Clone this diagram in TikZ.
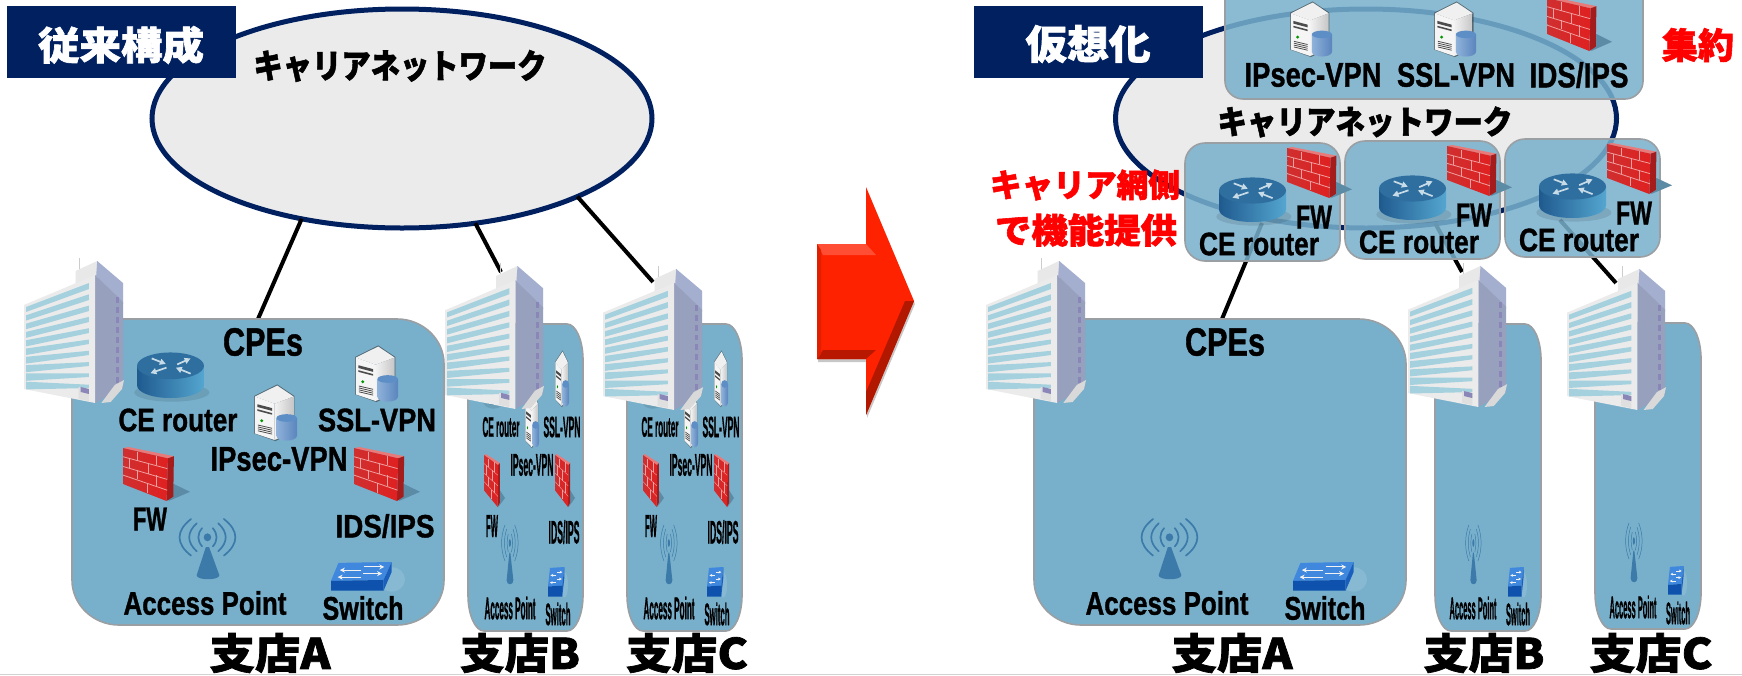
\documentclass[tikz,border=0pt]{standalone}
\usepackage{fontspec}
\usepackage{graphicx}
\setmainfont{Liberation Sans}[BoldFeatures={FakeBold=1.2}]
\newfontfamily\jp{Noto Sans CJK JP}[BoldFeatures={FakeBold=1.6}]
\usetikzlibrary{shapes.geometric,arrows.meta}
\definecolor{navy}{HTML}{002060}
\definecolor{netfill}{HTML}{EBEBEB}
\definecolor{cpe}{HTML}{78B0CC}
\definecolor{cpeedge}{HTML}{9A9FA3}
\definecolor{winblue}{HTML}{A5D0DE}
\definecolor{sideblue}{HTML}{A4AECE}
\definecolor{sidepurple}{HTML}{8A86B8}
\definecolor{iconblue}{HTML}{3C7BA9}
\definecolor{rta}{HTML}{1F5A8E}
\definecolor{rtb}{HTML}{54A6D0}
\definecolor{rtc}{HTML}{2F6F9F}
\definecolor{rtd}{HTML}{C8DCE8}
\definecolor{icb1}{HTML}{8FB2DA}
\definecolor{icb2}{HTML}{5A85BD}
\definecolor{icb3}{HTML}{5D8FC6}
\definecolor{fwshade}{HTML}{5C8BA6}
\definecolor{fwtop}{HTML}{E87A7A}
\definecolor{fwside}{HTML}{A51C1C}
\definecolor{fwa}{HTML}{CF2F30}
\definecolor{fwb}{HTML}{E02020}
\definecolor{fwline}{HTML}{EFA0A0}
\definecolor{swtop}{HTML}{3F88DE}
\definecolor{swfront}{HTML}{0E52AE}
\definecolor{swside}{HTML}{1A5FBB}
\definecolor{arr}{HTML}{FF2200}
\tikzset{
  netcloud/.style={shape=ellipse,draw=navy,fill=netfill,line width=5pt,inner sep=0pt,outer sep=0pt},
  titlebox/.style={fill=navy,inner sep=0pt,outer sep=0pt},
  link/.style={draw=black,line width=4pt},
  cpebox/.style={draw=cpeedge,fill=cpe,line width=1.6pt},
  lbl/.style={inner sep=0pt,outer sep=0pt},
}
\newcount\lc
% text fitted to a box: cx cy W H colour text
\newcommand\tx[6][black]{\global\advance\lc by 1
  \node[lbl,text=#1] (lb\the\lc) at (#2,#3) {\resizebox*{#4pt}{#5pt}{\fontsize{20}{24}\selectfont\bfseries #6}};}
\newcommand\jt[6][black]{\tx[#1]{#2}{#3}{#4}{#5}{\jp #6}}
% rounded box with elliptical corners
\newcommand\ebox[7][cpebox]{%
  \path[#1] ({#2+#6},#3) -- ({#4-#6},#3)
   .. controls ({#4-.45*#6},#3) and (#4,{#3+.45*#7}) .. (#4,{#3+#7})
   -- (#4,{#5-#7})
   .. controls (#4,{#5-.45*#7}) and ({#4-.45*#6},#5) .. ({#4-#6},#5)
   -- ({#2+#6},#5)
   .. controls ({#2+.45*#6},#5) and (#2,{#5-.45*#7}) .. (#2,{#5-#7})
   -- (#2,{#3+#7})
   .. controls (#2,{#3+.45*#7}) and ({#2+.45*#6},#3) .. ({#2+#6},#3) -- cycle;}
% ---------- icons: x1 y1 x2 y2
\newcommand\bldg[4]{%
 \pgfmathsetmacro\icx{((#3)-(#1))/96}\pgfmathsetmacro\icy{((#4)-(#2))/143}
 \begin{scope}[shift={(#1,#2)},x=\icx pt,y=-\icy pt]
  \draw[gray!40,line width=.5pt] (54,-2) -- (54,12);
  \fill[gray!18] (50,11) -- (71,1) -- (71,16) -- (50,24) -- cycle;
  \fill[sideblue] (71,1) -- (96,23) -- (96,44) -- (70,16) -- cycle;
  \fill[sideblue!92!black] (69,15) -- (96,42) -- (96,128) -- (69,143) -- cycle;
  \fill[gray!16] (0,45) -- (69,15) -- (69,143) -- (0,129) -- cycle;
  \foreach \i in {0,...,9}{
    \fill[winblue] (2,{47+8.3*\i}) -- (63,{23+11.3*\i}) -- (63,{29+11*\i}) -- (2,{52+8.6*\i}) -- cycle;}
  \foreach \i in {0,...,8}{
    \fill[sidepurple] (89,{37+10*\i}) rectangle (92,{43+10*\i});}
  \fill[gray!25] (53,127) -- (63,129) -- (63,141) -- (53,139) -- cycle;
  \fill[sidepurple] (55,127) -- (63,129) -- (63,134) -- (55,132) -- cycle;
  \fill[gray!30] (75,143) -- (88,125) -- (97,120) -- (95,129) -- (84,142) -- cycle;
 \end{scope}}
\newcommand\router[4]{%
 \pgfmathsetmacro\icx{((#3)-(#1))/100}\pgfmathsetmacro\icy{((#4)-(#2))/100}
 \pgfmathsetmacro\ick{min(1,((#3)-(#1))/60)}
 \begin{scope}[shift={(#1,#2)},x=\icx pt,y=-\icy pt]
  \fill[black,opacity=.10] (52,88) ellipse [x radius=56,y radius=20];
  \path[left color=rta,right color=rtb] (0,30) -- (0,72) .. controls (0,88) and (22,100) .. (50,100)
     .. controls (78,100) and (100,88) .. (100,72) -- (100,30) -- cycle;
  \fill[rtc] (50,30) ellipse [x radius=50,y radius=29];
  \foreach \ax/\ay/\bx/\by in {22/14/43/26, 60/27/80/14, 44/34/20/46, 80/47/58/34}{
    \draw[rtd,line width=1.7*\ick pt,-{Triangle[length=6pt,width=6pt]}] (\ax,\ay) -- (\bx,\by);}
 \end{scope}}
\newcommand\server[4]{%
 \pgfmathsetmacro\icx{((#3)-(#1))/100}\pgfmathsetmacro\icy{((#4)-(#2))/100}
 \begin{scope}[shift={(#1,#2)},x=\icx pt,y=-\icy pt]
  \fill[gray!45!black,opacity=.6] (0,20) -- (54,-1) -- (94,20) -- (94,84) -- (50,102) -- (0,88) -- cycle;
  \fill[gray!12] (2,21) -- (54,1) -- (92,21) -- (48,34) -- cycle;
  \path[left color=gray!10,right color=gray!45] (48,34) -- (92,21) -- (92,84) -- (48,100) -- cycle;
  \fill[gray!8] (2,21) -- (48,34) -- (48,100) -- (2,88) -- cycle;
  \fill[gray!60!black] (8,35) -- (42,42) -- (42,47) -- (8,40) -- cycle;
  \fill[gray!60!black] (8,44) -- (42,51) -- (42,54) -- (8,47) -- cycle;
  \fill[green!60!black] (18,65) ellipse [x radius=4,y radius=3];
  \foreach \i in {0,...,3}{\fill[gray!60!black] (9,{72+3.5*\i}) -- (42,{78+3.5*\i}) -- (42,{79.5+3.5*\i}) -- (9,{73.5+3.5*\i}) -- cycle;}
  \path[left color=icb1,right color=icb2] (52,60) -- (52,92) .. controls (52,104) and (100,104) .. (100,92) -- (100,60) -- cycle;
  \fill[icb3] (76,60) ellipse [x radius=24,y radius=7];
 \end{scope}}
\newcommand\firewall[4]{%
 \pgfmathsetmacro\icx{((#3)-(#1))/100}\pgfmathsetmacro\icy{((#4)-(#2))/100}
 \pgfmathsetmacro\ick{min(.8,.2+((#3)-(#1))/110)}
 \begin{scope}[shift={(#1,#2)},x=\icx pt,y=-\icy pt]
  \fill[fwshade] (75,68) -- (100,83) -- (68,100) -- cycle;
  \fill[fwtop] (0,2) -- (8,0) -- (76,17) -- (67,21) -- cycle;
  \fill[fwside] (67,21) -- (76,17) -- (75,92) -- (65,100) -- cycle;
  \path[left color=fwa,right color=fwb] (0,2) -- (67,21) -- (65,100) -- (1,69) -- cycle;
  \begin{scope}[draw=fwline,line width=\ick pt]
   \draw (0,18) -- (66,40); \draw (0,36) -- (66,60); \draw (0,52) -- (66,80);
   \draw (22,9) -- (22,25); \draw (50,16) -- (50,34);
   \draw (10,21) -- (10,39); \draw (38,30) -- (38,50);
   \draw (22,43) -- (22,60); \draw (50,52) -- (50,73);
   \draw (36,67) -- (36,85);
  \end{scope}
 \end{scope}}
\newcommand\apicon[4]{%
 \pgfmathsetmacro\icx{((#3)-(#1))/100}\pgfmathsetmacro\icy{((#4)-(#2))/100}
 \pgfmathsetmacro\ick{max(.45,1.7*((#3)-(#1))/54)}
 \begin{scope}[shift={(#1,#2)},x=\icx pt,y=-\icy pt]
  \fill[iconblue] (49,30) ellipse [x radius=7,y radius=6.5];
  \fill[iconblue] (46,46) -- (52,46) -- (71,92) .. controls (72,101) and (28,101) .. (29,92) -- cycle;
  \foreach \rx/\ry in {16/15,32/23,49/30}{
   \draw[iconblue,line width=\ick pt,line cap=round] ({49-.62*\rx},{30-\ry}) .. controls ({49-1.2*\rx},{30-.35*\ry}) and ({49-1.2*\rx},{30+.35*\ry}) .. ({49-.62*\rx},{30+\ry});
   \draw[iconblue,line width=\ick pt,line cap=round] ({49+.62*\rx},{30-\ry}) .. controls ({49+1.2*\rx},{30-.35*\ry}) and ({49+1.2*\rx},{30+.35*\ry}) .. ({49+.62*\rx},{30+\ry});
  }
 \end{scope}}
\newcommand\swicon[4]{%
 \pgfmathsetmacro\icx{((#3)-(#1))/100}\pgfmathsetmacro\icy{((#4)-(#2))/100}
 \pgfmathsetmacro\ick{min(1,.45+((#3)-(#1))/150)}
 \pgfmathsetmacro\ict{min(5,2+((#3)-(#1))/24)}
 \begin{scope}[shift={(#1,#2)},x=\icx pt,y=-\icy pt]
  \fill[white,opacity=.12] (82,60) ellipse [x radius=18,y radius=42];
  \fill[swtop] (10,3) -- (82,0) -- (71,62) -- (0,65) -- cycle;
  \fill[swfront] (0,65) -- (71,62) -- (71,99) -- (0,99) -- cycle;
  \fill[swside] (82,0) -- (82,34) -- (71,99) -- (71,62) -- cycle;
  \foreach \ax/\ay/\bx/\by in {41/28/12/28, 44/17/72/17, 41/52/9/52, 43/40/69/40}{
   \draw[white!90!gray,line width=\ick pt,-{Stealth[length=\ict pt,width=\ict pt]}] (\ax,\ay) -- (\bx,\by);}
 \end{scope}}
\begin{document}
\begin{tikzpicture}[x=1pt,y=-1pt]
\useasboundingbox (0,0) rectangle (1742,675);
\fill[white] (0,0) rectangle (1742,675);
\draw[gray!35,line width=1.5pt] (0,674.5) -- (1742,674.5);

% ===== LEFT PANEL =====
\node[netcloud,minimum width=500pt,minimum height=219pt] (netL) at (402,118.5) {};
\coordinate (siteAtop) at (258,319);
\coordinate (bldgBroof) at (501,272);
\coordinate (bldgCroof) at (653,282);
\draw[link] (netL.225) -- (siteAtop);
\draw[link] (netL.305) -- (bldgBroof);
\draw[link] (netL.336) -- (bldgCroof);
\node[titlebox,minimum width=229pt,minimum height=72pt] (titleL) at (121.5,42) {};
\jt[white]{121}{45}{166}{38}{従来構成}
\jt{400}{66}{293}{32}{キャリアネットワーク}

\ebox{72}{319}{444}{625}{47}{45}
\ebox{468}{324}{583}{631}{16}{36}
\ebox{627}{324}{742}{631}{16}{36}

% site A
\router{137}{352}{204}{398}
\server{355}{346}{398}{401}
\server{254}{385}{297}{440}
\firewall{123}{447}{190}{501}
\firewall{354}{447}{420}{501}
\apicon{181}{519}{235}{580}
\swicon{331}{562}{405}{591}
\bldg{24}{260}{123}{403}
\tx{263}{342}{80}{28}{CPEs}
\tx{178}{420}{119}{23}{CE router}
\tx{377}{420}{118}{23}{SSL-VPN}
\tx{279}{459}{137}{24}{IPsec-VPN}
\tx{150}{519}{34}{23}{FW}
\tx{385}{526}{99}{24}{IDS/IPS}
\tx{205}{603}{163}{24}{Access Point}
\tx{363}{608}{81}{24}{Switch}
\jt{270}{653}{121}{40}{支店A}

% site B and C (same layout, squeezed)
\foreach \dx in {0,159}{
 \router{483+\dx}{358}{503+\dx}{405}
 \server{555+\dx}{351}{569+\dx}{406}
 \server{525+\dx}{392}{539+\dx}{447}
 \firewall{484+\dx}{454}{505+\dx}{507}
 \firewall{555+\dx}{454}{575+\dx}{507}
 \apicon{502+\dx}{525}{518+\dx}{585}
 \swicon{548+\dx}{567}{568+\dx}{597}
}
\bldg{445}{265}{543}{409}
\bldg{603}{268}{702}{410}
\foreach \dx in {0,159}{
 \tx{501+\dx}{427}{37}{20}{CE router}
 \tx{562+\dx}{427}{37}{21}{SSL-VPN}
 \tx{532+\dx}{465}{43}{22}{IPsec-VPN}
 \tx{492+\dx}{526}{12}{22}{FW}
 \tx{564+\dx}{532}{31}{24}{IDS/IPS}
 \tx{510+\dx}{608}{51}{23}{Access Point}
 \tx{558+\dx}{614}{25}{23}{Switch}
}
\jt{520}{653}{120}{40}{支店B}
\jt{687}{653}{122}{40}{支店C}

% ===== ARROW =====
\fill[black,opacity=.22] (818,247) -- (867,247) -- (867,190) -- (915,304) -- (867,418) -- (867,362) -- (818,362) -- cycle;
\coordinate (arrowTip) at (914,301);
\fill[arr] (817,244) -- (866,244) -- (866,187) -- (arrowTip) -- (866,415) -- (866,359) -- (817,359) -- cycle;
\fill[arr!80!white] (817,244) -- (866,244) -- (876,255) -- (823,255) -- cycle;
\fill[arr!72!black] (817,359) -- (866,359) -- (876,350) -- (823,350) -- cycle;
\fill[arr!88!black] (817,244) -- (821,250) -- (821,354) -- (817,359) -- cycle;
\fill[arr!70!black] (arrowTip) -- (866,415) -- (866,392) -- (905,301) -- cycle;

% ===== RIGHT PANEL =====
\node[netcloud,minimum width=501pt,minimum height=219pt] (netR) at (1366,118.5) {};
\coordinate (rtA) at (1262,223);
\coordinate (rtB) at (1435,223);
\coordinate (rtC) at (1560,220);
\coordinate (siteAtopR) at (1222,319);
\coordinate (bldgBroofR) at (1462,272);
\coordinate (bldgCroofR) at (1616,283);
\draw[link] (rtA) -- (siteAtopR);
\draw[link] (rtB) -- (bldgBroofR);
\draw[link] (rtC) -- (bldgCroofR);
\node[titlebox,minimum width=229pt,minimum height=72pt] (titleR) at (1088.5,42) {};
\jt[white]{1088}{44}{125}{38}{仮想化}

% top box
\ebox[cpebox,fill opacity=.86]{1225}{-20}{1643}{99}{18}{18}
\server{1290}{2}{1332}{56}
\server{1434}{2}{1476}{56}
\firewall{1547}{-3}{1612}{51}
\tx{1313}{75}{137}{24}{IPsec-VPN}
\tx{1456}{75}{118}{24}{SSL-VPN}
\tx{1579}{75}{99}{26}{IDS/IPS}
\jt[red]{1698}{45}{72}{34}{集約}
\jt{1365}{122}{295}{31}{キャリアネットワーク}

% CE router boxes
\foreach \dx/\dy in {0/0,160/-2,320/-4}{
 \ebox[cpebox,fill opacity=.86]{1185+\dx}{143+\dy}{1340+\dx}{261+\dy}{20}{20}
}
\foreach \dx/\dy in {0/0,160/-2,320/-4}{
 \router{1219+\dx}{177+\dy}{1286+\dx}{222+\dy}
 \firewall{1287+\dx}{147+\dy}{1352+\dx}{198+\dy}
 \tx{1314+\dx}{217+\dy}{36}{23}{FW}
 \tx{1259+\dx}{244+\dy}{120}{23}{CE router}
}
\jt[red]{1085}{185}{190}{31}{キャリア網側}
\jt[red]{1086}{230}{182}{33}{で機能提供}

% sites
\ebox{1034}{319}{1406}{625}{47}{45}
\ebox{1435}{324}{1541}{631}{16}{36}
\ebox{1595}{323}{1701}{629}{16}{36}
\apicon{1143}{519}{1197}{580}
\swicon{1293}{562}{1367}{591}
\apicon{1466}{525}{1481}{585}
\swicon{1508}{567}{1527}{597}
\apicon{1626}{523}{1642}{583}
\swicon{1668}{566}{1687}{595}
\bldg{986}{260}{1085}{403}
\bldg{1408}{265}{1506}{407}
\bldg{1567}{268}{1665}{410}
\tx{1225}{342}{80}{28}{CPEs}
\tx{1167}{603}{163}{24}{Access Point}
\tx{1325}{608}{81}{24}{Switch}
\jt{1232}{653}{121}{40}{支店A}
\tx{1473}{608}{47}{23}{Access Point}
\tx{1518}{614}{24}{23}{Switch}
\jt{1484}{653}{121}{40}{支店B}
\tx{1633}{607}{47}{23}{Access Point}
\tx{1678}{613}{24}{23}{Switch}
\jt{1651}{653}{123}{40}{支店C}
\end{tikzpicture}
\end{document}
